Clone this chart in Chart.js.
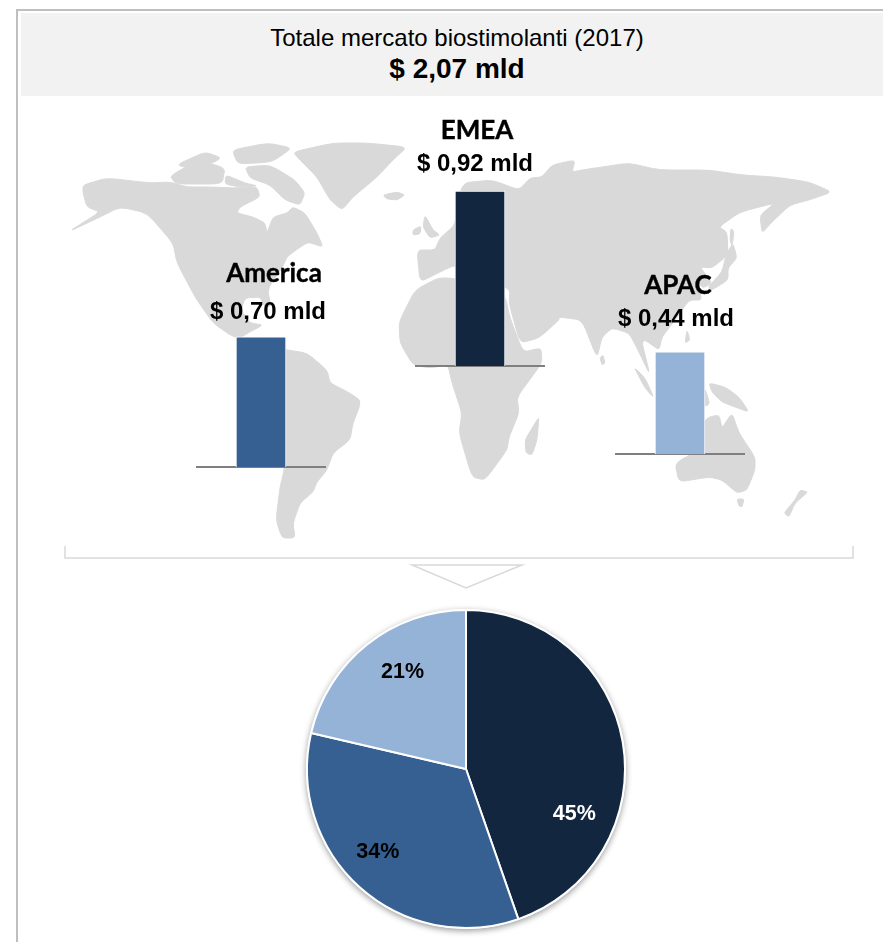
<!DOCTYPE html>
<html lang="it">
<head>
<meta charset="utf-8">
<title>Totale mercato biostimolanti (2017)</title>
<script src="https://cdn.jsdelivr.net/npm/chart.js@4"></script>
<style>
  html, body { margin: 0; padding: 0; background: #fff; }
  #page { position: relative; width: 883px; height: 942px; overflow: hidden; }
  #page canvas { position: absolute; }
  #frame { position: absolute; left: 16px; top: 9px; width: 900px; height: 960px; border: 2px solid #bfbfbf; box-sizing: border-box; }
  #header { position: absolute; left: 21px; top: 13px; width: 862px; height: 83px; background: #f2f2f2; text-align: center; font-family: "Liberation Sans", Arial, sans-serif; color: #000; }
  #header .t1 { position: absolute; left: 10px; right: 0; top: 11px; font-size: 24px; line-height: 28px; }
  #header .t2 { position: absolute; left: 10px; right: 0; top: 39px; font-size: 28px; line-height: 34px; font-weight: bold; }
  .area { position: absolute; font-family: Lato, sans-serif; font-weight: bold; font-size: 26px; line-height: 30px; color: #000; -webkit-text-stroke: 0.4px #000; transform: translateX(-50%); white-space: nowrap; }
  .valore { position: absolute; font-family: "Liberation Sans", Arial, sans-serif; font-weight: bold; font-size: 24px; line-height: 28px; color: #000; transform: translateX(-50%); white-space: nowrap; }
</style>
</head>
<body>
<div id="page">
  <div id="frame"></div>
  <div id="header">
    <div class="t1" id="titolo"></div>
    <div class="t2" id="totale"></div>
  </div>
  <canvas id="mappa" width="883" height="600" style="left:0;top:0"></canvas>
  <canvas id="bar-0" width="130" height="200" style="left:415px;top:174px"></canvas>
  <canvas id="bar-1" width="130" height="150" style="left:196px;top:325px"></canvas>
  <canvas id="bar-2" width="130" height="120" style="left:615px;top:342px"></canvas>
  <canvas id="torta" width="360" height="342" style="left:286px;top:598px"></canvas>
</div>

<script>
const titolo = 'Totale mercato biostimolanti (2017)';
const totale = '$ 2,07 mld';

// Aree e valori (mld di $)
const aree = ['EMEA', 'America', 'APAC'];
const valori = [0.92, 0.70, 0.44];
const etichette = ['$ 0,92 mld', '$ 0,70 mld', '$ 0,44 mld'];
const colori = ['#12263f', '#366092', '#95b3d7'];

// Nel riferimento ogni barra ha una scala sua (px per unità)
const pxPerUnita = [190, 186, 232];

// Contorni della mappa di sfondo, solo decorazione
const continenti = [
  // Nord America
  [[83,185],[107,178],[150,183],[170,182],[187,187],[213,187],[233,188],[257,187],[260,197],[240,207],[237,213],[253,217],[265,223],[267,233],[273,217],[287,213],[293,207],[305,213],[317,233],[323,247],[308,242],[296,250],[287,257],[282,268],[270,285],[268,292],[271,306],[265,307],[260,297],[245,298],[241,310],[250,323],[263,325],[248,333],[240,338],[262,345],[287,350],[270,345],[233,337],[213,323],[197,300],[193,293],[177,263],[173,243],[147,213],[120,207],[100,217],[68,232],[100,212],[87,207],[83,193]],
  // Sud America
  [[270,345],[287,350],[307,353],[327,370],[330,383],[348,392],[360,400],[359,408],[353,423],[350,440],[333,453],[327,470],[317,482],[313,492],[300,503],[293,523],[295,538],[282,538],[276,520],[280,487],[285,467],[270,420],[262,385]],
  // Groenlandia
  [[293,152],[333,143],[367,143],[407,147],[393,160],[377,177],[353,197],[342,210],[330,200],[317,177],[300,160]],
  // Isole artiche
  [[170,176],[198,160],[225,168],[222,184],[176,184]],
  [[232,150],[268,143],[292,148],[272,162],[238,164]],
  [[176,165],[205,152],[222,158],[198,170]],
  [[245,167],[270,165],[295,180],[305,193],[300,205],[285,200],[270,185],[250,178]],
  [[226,175],[245,183],[258,186],[240,187],[225,184]],
  // Islanda, Gran Bretagna, Irlanda
  [[383,195],[397,192],[405,195],[397,200],[387,199]],
  [[425,215],[433,230],[440,235],[430,238],[423,227]],
  [[413,230],[421,226],[420,234],[413,235]],
  // Eurasia
  [[417,250],[435,250],[440,238],[455,225],[462,183],[492,180],[519,190],[530,178],[542,177],[552,165],[575,160],[572,172],[582,170],[602,167],[629,163],[659,170],[709,170],[742,175],[775,177],[809,182],[832,192],[809,200],[790,205],[772,222],[762,233],[760,215],[775,203],[740,212],[719,227],[727,232],[728,255],[712,268],[700,267],[712,283],[703,288],[696,280],[702,300],[689,300],[675,320],[662,337],[659,350],[645,340],[642,343],[650,375],[638,350],[629,333],[612,328],[602,337],[597,358],[582,320],[559,317],[559,320],[539,338],[520,343],[509,303],[510,290],[495,282],[455,265],[440,272],[420,282]],
  // Africa
  [[415,290],[440,277],[480,282],[505,295],[510,318],[523,352],[541,348],[542,363],[517,397],[519,413],[509,437],[507,450],[485,480],[472,477],[459,433],[462,413],[452,383],[448,365],[430,368],[413,365],[400,343],[399,322]],
  // Madagascar, Sri Lanka
  [[539,417],[537,440],[532,455],[526,453],[525,440],[534,425]],
  [[603,355],[605,363],[602,365],[600,358]],
  // Sud-est asiatico e Oceania
  [[634,367],[645,378],[654,398],[645,388]],
  [[687,330],[690,340],[685,343]],
  [[709,383],[725,387],[739,397],[749,412],[735,407],[722,402],[712,392]],
  [[690,390],[705,388],[710,405],[692,408]],
  [[709,417],[719,415],[722,428],[732,413],[739,433],[755,457],[755,470],[747,490],[737,493],[722,480],[709,477],[679,482],[675,463],[705,447],[700,425]],
  [[737,499],[744,499],[742,507],[739,506]],
  [[800,490],[808,492],[795,503],[789,517],[784,513],[795,500]],
  // Giappone, Sachalin
  [[733,243],[737,258],[728,268],[728,280],[712,290],[708,287],[722,272],[726,255]],
  [[731,228],[734,232],[732,246],[730,240]]
];

document.getElementById('titolo').textContent = titolo;
document.getElementById('totale').textContent = totale;

function verso(a, b, t) {
  return [a[0] + (b[0] - a[0]) * t, a[1] + (b[1] - a[1]) * t];
}

function disegnaMappa() {
  const ctx = document.getElementById('mappa').getContext('2d');

  ctx.fillStyle = '#d9d9d9';
  ctx.strokeStyle = '#d9d9d9';
  ctx.lineWidth = 1;
  ctx.lineJoin = 'round';
  continenti.forEach(poly => {
    // spigoli appena arrotondati
    const n = poly.length;
    ctx.beginPath();
    poly.forEach((p, i) => {
      const a = verso(p, poly[(i + n - 1) % n], 0.25);
      const b = verso(p, poly[(i + 1) % n], 0.25);
      if (i) ctx.lineTo(a[0], a[1]);
      else ctx.moveTo(a[0], a[1]);
      ctx.quadraticCurveTo(p[0], p[1], b[0], b[1]);
    });
    ctx.closePath();
    ctx.fill();
    ctx.stroke();
  });

  // Parentesi e freccia verso la torta
  ctx.lineWidth = 1.5;
  ctx.lineJoin = 'miter';
  ctx.beginPath();
  ctx.moveTo(65, 546);
  ctx.lineTo(65, 558);
  ctx.lineTo(853, 558);
  ctx.lineTo(853, 546);
  ctx.stroke();

  ctx.beginPath();
  ctx.moveTo(412, 565);
  ctx.lineTo(522, 565);
  ctx.lineTo(466, 588);
  ctx.closePath();
  ctx.stroke();
}

function renderBarra(i) {
  const ctx = document.getElementById('bar-' + i);
  return new Chart(ctx, {
    type: 'bar',
    data: {
      labels: [aree[i]],
      datasets: [{
        data: [valori[i]],
        backgroundColor: colori[i],
        borderColor: '#ffffff',
        borderWidth: { top: 1, left: 1, right: 1, bottom: 0 },
        barThickness: 50
      }]
    },
    options: {
      responsive: false,
      animation: false,
      layout: { padding: 0 },
      plugins: { legend: { display: false }, tooltip: { enabled: false } },
      scales: {
        x: {
          grid: { display: false },
          ticks: { display: false },
          border: { color: '#7f7f7f', width: 2 }
        },
        y: {
          display: false,
          min: 0,
          // 8 px restano all'asse x
          max: (ctx.height - 8) / pxPerUnita[i]
        }
      }
    }
  });
}

// Ombra sotto la torta
const ombraTorta = {
  id: 'ombraTorta',
  beforeDatasetsDraw(chart) {
    const arc = chart.getDatasetMeta(0).data[0];
    const c = chart.ctx;
    c.save();
    c.shadowColor = 'rgba(0,0,0,0.4)';
    c.shadowBlur = 6;
    c.shadowOffsetY = 2;
    c.fillStyle = '#ffffff';
    c.beginPath();
    c.arc(arc.x, arc.y, arc.outerRadius + 1, 0, Math.PI * 2);
    c.fill();
    c.restore();
  }
};

// Percentuali sugli spicchi
const spostaEtichette = [[30, 58], [-35, 24], [-14, -35]];
const etichetteTorta = {
  id: 'etichetteTorta',
  afterDatasetsDraw(chart) {
    const c = chart.ctx;
    const somma = valori.reduce((a, b) => a + b, 0);
    c.save();
    c.font = 'bold 21.5px "Liberation Sans", Arial, sans-serif';
    c.textAlign = 'center';
    c.textBaseline = 'middle';
    chart.getDatasetMeta(0).data.forEach((arc, i) => {
      const pos = arc.tooltipPosition();
      c.fillStyle = i === 0 ? '#ffffff' : '#000000';
      c.fillText(Math.round(valori[i] / somma * 100) + '%', pos.x + spostaEtichette[i][0], pos.y + spostaEtichette[i][1]);
    });
    c.restore();
  }
};

function renderTorta() {
  return new Chart(document.getElementById('torta'), {
    type: 'pie',
    data: {
      labels: aree,
      datasets: [{
        data: valori,
        backgroundColor: colori,
        borderColor: '#ffffff',
        borderWidth: 2,
        radius: 159
      }]
    },
    options: {
      responsive: false,
      animation: false,
      plugins: { legend: { display: false }, tooltip: { enabled: false } }
    },
    plugins: [ombraTorta, etichetteTorta]
  });
}

// Testi sopra le barre
const posTesti = [
  { x: 477, xVal: 475, area: 114, val: 149 },
  { x: 274, xVal: 268, area: 257, val: 297 },
  { x: 678, xVal: 676, area: 269, val: 304 }
];

function renderTesti() {
  const page = document.getElementById('page');
  aree.forEach((nome, i) => {
    const a = document.createElement('div');
    a.className = 'area';
    a.textContent = nome;
    a.style.left = posTesti[i].x + 'px';
    a.style.top = posTesti[i].area + 'px';
    page.appendChild(a);

    const v = document.createElement('div');
    v.className = 'valore';
    v.textContent = etichette[i];
    v.style.left = posTesti[i].xVal + 'px';
    v.style.top = posTesti[i].val + 'px';
    page.appendChild(v);
  });
}

disegnaMappa();
aree.forEach((_, i) => renderBarra(i));
renderTorta();
renderTesti();
</script>
</body>
</html>
